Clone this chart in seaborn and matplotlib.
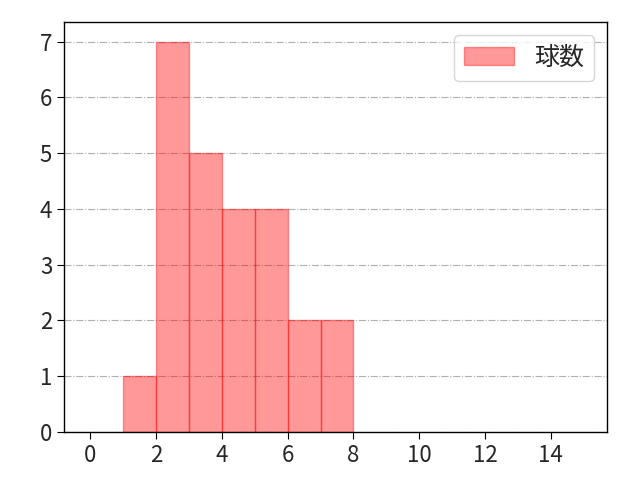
import matplotlib
matplotlib.use('Agg')
import matplotlib.pyplot as plt
import seaborn as sns
import pandas as pd

# histogram bins (left edges) and counts
bin_left = [1, 2, 3, 4, 5, 6, 7]
counts = [1, 7, 5, 4, 4, 2, 2]
label = '球数'

sns.set_style('white')
plt.rcParams['font.family'] = ['Noto Sans CJK JP', 'DejaVu Sans']

df = pd.DataFrame({'value': [b + 0.5 for b in bin_left], 'count': counts})

fig, ax = plt.subplots(figsize=(6.4, 4.8), dpi=100)
sns.histplot(data=df, x='value', weights='count', bins=list(range(1, 9)),
             color='red', edgecolor='red', linewidth=1,
             label=label, ax=ax)
for p in ax.patches:
    p.set_alpha(0.4)

ax.set_xlim(-0.8, 15.7)
ax.set_ylim(0, 7.35)
ax.set_xticks(range(0, 16, 2))
ax.set_yticks(range(0, 8))
ax.set_xlabel('')
ax.set_ylabel('')
ax.grid(axis='y', linestyle='-.', color='#b0b0b0', linewidth=0.8)
ax.set_axisbelow(True)
for s in ax.spines.values():
    s.set_color('black')
    s.set_linewidth(1.0)
ax.tick_params(axis='both', which='both', direction='out', length=5, labelsize=16,
               bottom=True, left=True, color='black')
ax.legend(loc='upper right', fontsize=18)

fig.subplots_adjust(left=0.1, right=0.948, top=0.954, bottom=0.1)
fig.savefig('out.png', dpi=100)
